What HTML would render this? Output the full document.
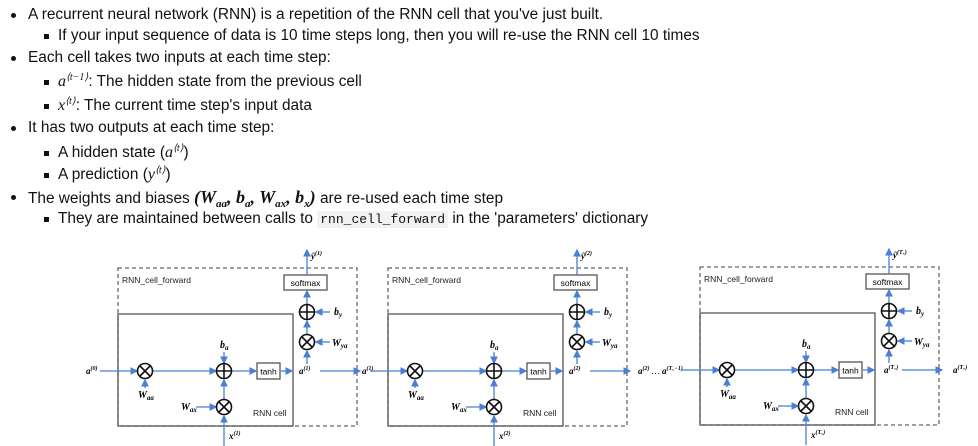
<!DOCTYPE html>
<html><head><meta charset="utf-8"><style>
body{margin:0;width:978px;height:446px;background:#fff;overflow:hidden;font-family:"Liberation Sans",sans-serif;font-size:15.4px;color:#111}
.l{position:absolute;white-space:nowrap;line-height:20px;height:20px}
.b1::before{content:"";position:absolute;left:-17px;top:8px;width:5px;height:5px;border-radius:50%;background:#111}
.b2::before{content:"";position:absolute;left:-14px;top:8px;width:5px;height:5px;background:#111}
.m{font-family:"Liberation Serif",serif;font-style:italic;font-size:16px}
.s{font-family:"Liberation Serif",serif;font-style:italic;font-size:10px;position:relative;top:-6px;line-height:0}
.u{font-size:11px;position:relative;top:4px;line-height:0}
code{font-family:"Liberation Mono",monospace;font-size:13px;background:#f2f2f2;padding:1px 3px;line-height:16px}
</style></head><body>
<div class="l b1" style="left:28px;top:5px">A recurrent neural network (RNN) is a repetition of the RNN cell that you've just built.</div>
<div class="l b2" style="left:58px;top:26px">If your input sequence of data is 10 time steps long, then you will re-use the RNN cell 10 times</div>
<div class="l b1" style="left:28px;top:48px">Each cell takes two inputs at each time step:</div>
<div class="l b2" style="left:58px;top:72px"><span class="m">a</span><span class="s">⟨t−1⟩</span>: The hidden state from the previous cell</div>
<div class="l b2" style="left:58px;top:96px"><span class="m">x</span><span class="s">⟨t⟩</span>: The current time step's input data</div>
<div class="l b1" style="left:28px;top:118px">It has two outputs at each time step:</div>
<div class="l b2" style="left:58px;top:143px">A hidden state (<span class="m">a</span><span class="s">⟨t⟩</span>)</div>
<div class="l b2" style="left:58px;top:165px">A prediction (<span class="m">y</span><span class="s">⟨t⟩</span>)</div>
<div class="l b1" style="left:28px;top:187px">The weights and biases <span class="m" style="font-size:18px;font-weight:bold">(W<span class="u">aa</span>, b<span class="u">a</span>, W<span class="u">ax</span>, b<span class="u">x</span>)</span> are re-used each time step</div>
<div class="l b2" style="left:58px;top:209px">They are maintained between calls to <code>rnn_cell_forward</code> in the 'parameters' dictionary</div>

<svg width="978" height="446" style="position:absolute;left:0;top:0" font-family="Liberation Sans, sans-serif">
<defs>
<marker id="ar" markerWidth="6" markerHeight="6" refX="5" refY="3" orient="auto"><path d="M0,0 L6,3 L0,6z" fill="#4a7fd4"/></marker>
<g id="cell" stroke-width="1.3">
<rect x="118" y="268" width="239" height="158" fill="none" stroke="#666" stroke-dasharray="4,3"/>
<rect x="118" y="314" width="175" height="112" fill="none" stroke="#555"/>
<text x="122" y="283" font-size="8.5" fill="#222">RNN_cell_forward</text>
<text x="253" y="416" font-size="8.5" fill="#222">RNN cell</text>
<rect x="284" y="275" width="43" height="15" fill="#fff" stroke="#555"/>
<text x="305.5" y="286" font-size="8.5" text-anchor="middle">softmax</text>
<rect x="257" y="363" width="23" height="16" fill="#fff" stroke="#555"/>
<text x="268.5" y="374.5" font-size="8.5" text-anchor="middle">tanh</text>
<g stroke="#4a7fd4" fill="none" marker-end="url(#ar)">
<line x1="100" y1="371" x2="137" y2="371"/>
<line x1="153" y1="371" x2="216" y2="371"/>
<line x1="232" y1="371" x2="256" y2="371"/>
<line x1="281" y1="371" x2="292" y2="371"/>
<line x1="320" y1="371" x2="360" y2="371"/>
<line x1="145" y1="388" x2="145" y2="380"/>
<line x1="224" y1="352" x2="224" y2="363"/>
<line x1="224" y1="400" x2="224" y2="380"/>
<line x1="196" y1="407" x2="216" y2="407"/>
<line x1="224" y1="446" x2="224" y2="416"/>
<line x1="307" y1="364" x2="307" y2="351"/>
<line x1="307" y1="335" x2="307" y2="321"/>
<line x1="307" y1="304" x2="307" y2="291"/>
<line x1="307" y1="275" x2="307" y2="250"/>
<line x1="330" y1="312" x2="316" y2="312"/>
<line x1="330" y1="342" x2="316" y2="342"/>
</g>
<g fill="#fff" stroke="#111" stroke-width="1.6">
<circle cx="145" cy="371" r="7.5"/><path d="M140,366 L150,376 M150,366 L140,376"/>
<circle cx="224" cy="407" r="7.5"/><path d="M219,402 L229,412 M229,402 L219,412"/>
<circle cx="307" cy="342" r="7.5"/><path d="M302,337 L312,347 M312,337 L302,347"/>
<circle cx="224" cy="371" r="7.5"/><path d="M216.5,371 H231.5 M224,363.5 V378.5"/>
<circle cx="307" cy="312" r="7.5"/><path d="M299.5,312 H314.5 M307,304.5 V319.5"/>
</g>
<g font-family="Liberation Serif, serif" font-style="italic" font-weight="bold" font-size="10">
<text x="138" y="398">W<tspan font-size="7" dy="2">aa</tspan></text>
<text x="181" y="410">W<tspan font-size="7" dy="2">ax</tspan></text>
<text x="220" y="348">b<tspan font-size="7" dy="2">a</tspan></text>
<text x="334" y="315">b<tspan font-size="7" dy="2">y</tspan></text>
<text x="332" y="346">W<tspan font-size="7" dy="2">ya</tspan></text>
</g>
</g>
</defs>
<use href="#cell"/>
<use href="#cell" transform="translate(270,0)"/>
<use href="#cell" transform="translate(582,-1)"/>
<g font-family="Liberation Serif, serif" font-style="italic" font-weight="bold" font-size="9">
<text x="86" y="374">a<tspan font-size="6" dy="-4">(0)</tspan></text>
<text x="299" y="374">a<tspan font-size="6" dy="-4">(1)</tspan></text>
<text x="362" y="374">a<tspan font-size="6" dy="-4">(1)</tspan></text>
<text x="229" y="439">x<tspan font-size="6" dy="-4">(1)</tspan></text>
<text x="311" y="259">ŷ<tspan font-size="6" dy="-4">(1)</tspan></text>
<text x="569" y="374">a<tspan font-size="6" dy="-4">(2)</tspan></text>
<text x="499" y="439">x<tspan font-size="6" dy="-4">(2)</tspan></text>
<text x="581" y="259">ŷ<tspan font-size="6" dy="-4">(2)</tspan></text>
<text x="638" y="374">a<tspan font-size="6" dy="-4">(2)</tspan> <tspan dy="4" font-weight="normal">…</tspan> a<tspan font-size="6" dy="-4">(Tₓ−1)</tspan></text>
<text x="884" y="373">a<tspan font-size="6" dy="-4">(Tₓ)</tspan></text>
<text x="953" y="373">a<tspan font-size="6" dy="-4">(Tₓ)</tspan></text>
<text x="811" y="438">x<tspan font-size="6" dy="-4">(Tₓ)</tspan></text>
<text x="893" y="258">ŷ<tspan font-size="6" dy="-4">(Tₓ)</tspan></text>
</g>
</svg>
</body></html>
